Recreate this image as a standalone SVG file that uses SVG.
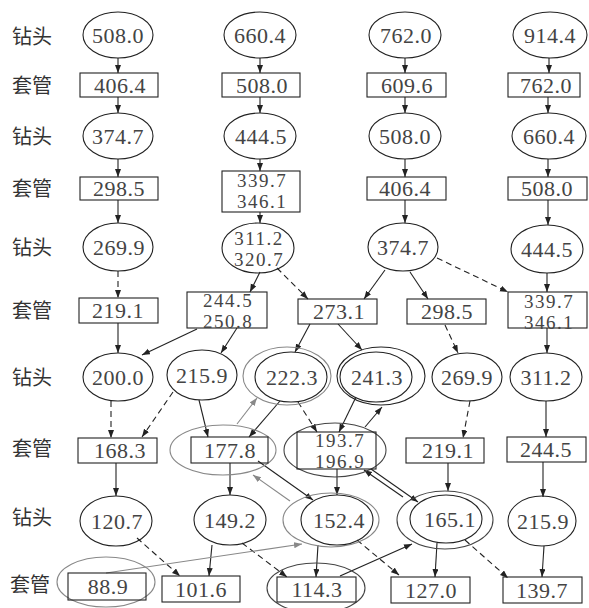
<svg xmlns="http://www.w3.org/2000/svg" width="589" height="608" viewBox="0 0 589 608">
<style>
.n ellipse,.n rect{fill:none;stroke:#222;stroke-width:1.1}
.n .g{stroke:#888}
.n .d{stroke:#444}
text{font-family:"Liberation Serif","Times New Roman",serif;font-size:22px;fill:#444;text-anchor:middle;letter-spacing:0.5px}
text.t2{font-size:19px;letter-spacing:1.5px}
text.lb{font-family:"Noto Sans CJK SC",sans-serif;font-size:20px;fill:#333;text-anchor:start;letter-spacing:0}
#edges line{stroke:#222;stroke-width:1.1;marker-end:url(#ah)}
#edges line.ds{stroke-dasharray:6 4}
#edges line.gr{stroke:#888;marker-end:url(#ahg)}
</style>
<defs>
<marker id="ah" markerUnits="userSpaceOnUse" markerWidth="9" markerHeight="7" refX="8" refY="3" orient="auto"><path d="M0,0 L8,3 L0,6 z" fill="#222"/></marker>
<marker id="ahg" markerUnits="userSpaceOnUse" markerWidth="9" markerHeight="7" refX="8" refY="3" orient="auto"><path d="M0,0 L8,3 L0,6 z" fill="#888"/></marker>
</defs>
<g id="labels">
<text class="lb" x="12" y="44">钻头</text>
<text class="lb" x="12" y="93">套管</text>
<text class="lb" x="12" y="144">钻头</text>
<text class="lb" x="12" y="196">套管</text>
<text class="lb" x="12" y="255">钻头</text>
<text class="lb" x="12" y="318">套管</text>
<text class="lb" x="12" y="385">钻头</text>
<text class="lb" x="12" y="456">套管</text>
<text class="lb" x="12" y="525">钻头</text>
<text class="lb" x="10" y="592">套管</text>
</g>
<g id="edges">
<line x1="118" y1="58" x2="118" y2="73"/>
<line x1="118" y1="97" x2="118" y2="113"/>
<line x1="118" y1="159" x2="118" y2="177"/>
<line x1="118" y1="200" x2="118" y2="223"/>
<line class="ds" x1="118" y1="271" x2="118" y2="298"/>
<line x1="118" y1="323" x2="118" y2="353"/>
<line class="ds" x1="111" y1="401" x2="111" y2="438"/>
<line x1="116" y1="463" x2="116" y2="496"/>
<line class="ds" x1="137" y1="538" x2="180" y2="576"/>
<line x1="260" y1="58" x2="260" y2="73"/>
<line x1="260" y1="97" x2="260" y2="113"/>
<line x1="260" y1="159" x2="260" y2="171"/>
<line x1="260" y1="212" x2="260" y2="223"/>
<line x1="260" y1="272" x2="250" y2="292"/>
<line class="ds" x1="277" y1="268" x2="308" y2="299"/>
<line x1="197" y1="329" x2="142" y2="355"/>
<line x1="237" y1="328" x2="221" y2="353"/>
<line class="ds" x1="173" y1="392" x2="142" y2="437"/>
<line x1="199" y1="400" x2="208" y2="437"/>
<line x1="280" y1="401" x2="249" y2="437"/>
<line x1="230" y1="463" x2="230" y2="495"/>
<line x1="258" y1="461" x2="313" y2="500"/>
<line x1="212" y1="545" x2="209" y2="576"/>
<line class="ds" x1="242" y1="543" x2="287" y2="577"/>
<line x1="405" y1="58" x2="405" y2="73"/>
<line x1="405" y1="97" x2="405" y2="113"/>
<line x1="405" y1="159" x2="405" y2="177"/>
<line x1="405" y1="200" x2="405" y2="223"/>
<line x1="385" y1="270" x2="364" y2="299"/>
<line x1="410" y1="272" x2="428" y2="299"/>
<line class="ds" x1="437" y1="258" x2="508" y2="292"/>
<line x1="310" y1="324" x2="295" y2="352"/>
<line x1="338" y1="324" x2="362" y2="350"/>
<line class="ds" x1="445" y1="325" x2="458" y2="353"/>
<line class="ds" x1="298" y1="402" x2="317" y2="432"/>
<line x1="356" y1="397" x2="339" y2="432"/>
<line class="ds" x1="470" y1="401" x2="463" y2="438"/>
<line x1="337" y1="469" x2="337" y2="495"/>
<line x1="371" y1="469" x2="418" y2="502"/>
<line x1="403" y1="497" x2="364" y2="470"/>
<line x1="448" y1="463" x2="448" y2="491"/>
<line x1="437" y1="543" x2="435" y2="577"/>
<line class="ds" x1="465" y1="540" x2="508" y2="578"/>
<line class="ds" x1="357" y1="540" x2="399" y2="575"/>
<line x1="318" y1="545" x2="316" y2="577"/>
<line class="gr" x1="237" y1="424" x2="257" y2="398"/>
<line class="gr" x1="290" y1="501" x2="253" y2="475"/>
<line class="gr" x1="106" y1="573" x2="302" y2="544"/>
<line x1="365" y1="427" x2="382" y2="407"/>
<line x1="340" y1="576" x2="412" y2="544"/>
<line x1="549" y1="58" x2="549" y2="73"/>
<line x1="548" y1="97" x2="548" y2="113"/>
<line x1="548" y1="159" x2="548" y2="177"/>
<line x1="548" y1="200" x2="548" y2="225"/>
<line x1="547" y1="273" x2="547" y2="292"/>
<line x1="547" y1="328" x2="547" y2="353"/>
<line x1="546" y1="401" x2="546" y2="437"/>
<line x1="543" y1="462" x2="543" y2="497"/>
<line x1="544" y1="546" x2="542" y2="577"/>
</g>
<g id="n508a" class="n"><ellipse cx="118" cy="35" rx="35" ry="23"/><text x="118" y="43">508.0</text></g>
<g id="n406a" class="n"><rect x="80" y="73" width="78" height="24"/><text x="120" y="93">406.4</text></g>
<g id="n374a" class="n"><ellipse cx="118" cy="136" rx="35" ry="23"/><text x="118" y="144">374.7</text></g>
<g id="n298a" class="n"><rect x="80" y="177" width="78" height="23"/><text x="119" y="196">298.5</text></g>
<g id="n269a" class="n"><ellipse cx="118" cy="247" rx="35" ry="24"/><text x="119" y="255">269.9</text></g>
<g id="n219a" class="n"><rect x="79" y="298" width="79" height="25"/><text x="118" y="318">219.1</text></g>
<g id="n200" class="n"><ellipse cx="118" cy="377" rx="35" ry="24"/><text x="118" y="385">200.0</text></g>
<g id="n168" class="n"><rect x="78" y="438" width="79" height="25"/><text x="120" y="458">168.3</text></g>
<g id="n120" class="n"><ellipse cx="116" cy="521" rx="36" ry="25"/><text x="117" y="529">120.7</text></g>
<g id="n88" class="n"><ellipse class="g" cx="106" cy="582" rx="49" ry="25"/><rect x="68" y="573" width="78" height="27"/><text x="108" y="594">88.9</text></g>
<g id="n660b" class="n"><ellipse cx="260" cy="35" rx="36" ry="23"/><text x="260" y="43">660.4</text></g>
<g id="n508b" class="n"><rect x="222" y="73" width="78" height="24"/><text x="262" y="93">508.0</text></g>
<g id="n444b" class="n"><ellipse cx="260" cy="136" rx="36" ry="23"/><text x="261" y="144">444.5</text></g>
<g id="n339b" class="n"><rect x="222" y="171" width="78" height="41"/><text class="t2" x="262" y="187">339.7</text><text class="t2" x="262" y="208">346.1</text></g>
<g id="n311b" class="n"><ellipse cx="258" cy="248" rx="36" ry="25"/><text class="t2" x="259" y="245">311.2</text><text class="t2" x="259" y="266">320.7</text></g>
<g id="n244b" class="n"><rect x="187" y="292" width="80" height="36"/><text class="t2" x="228" y="307">244.5</text><text class="t2" x="228" y="328">250.8</text></g>
<g id="n215b" class="n"><ellipse cx="202" cy="375" rx="35" ry="25"/><text x="202" y="383">215.9</text></g>
<g id="n177" class="n"><ellipse class="g" cx="223" cy="450" rx="53" ry="25"/><rect x="191" y="437" width="77" height="26"/><text x="230" y="458">177.8</text></g>
<g id="n149" class="n"><ellipse cx="230" cy="520" rx="36" ry="25"/><text x="230" y="528">149.2</text></g>
<g id="n101" class="n"><rect x="162" y="576" width="78" height="26"/><text x="201" y="597">101.6</text></g>
<g id="n762c" class="n"><ellipse cx="405" cy="35" rx="36" ry="23"/><text x="406" y="43">762.0</text></g>
<g id="n609" class="n"><rect x="367" y="73" width="79" height="24"/><text x="407" y="93">609.6</text></g>
<g id="n508c" class="n"><ellipse cx="405" cy="136" rx="36" ry="23"/><text x="405" y="144">508.0</text></g>
<g id="n406c" class="n"><rect x="367" y="177" width="79" height="23"/><text x="405" y="196">406.4</text></g>
<g id="n374c" class="n"><ellipse cx="403" cy="247" rx="35" ry="24"/><text x="403" y="255">374.7</text></g>
<g id="n273" class="n"><rect x="298" y="299" width="79" height="25"/><text x="339" y="319">273.1</text></g>
<g id="n298c" class="n"><rect x="407" y="299" width="79" height="25"/><text x="447" y="319">298.5</text></g>
<g id="n222" class="n"><ellipse class="g" cx="287" cy="376" rx="44" ry="29"/><ellipse cx="291" cy="377" rx="36" ry="25"/><text x="292" y="385">222.3</text></g>
<g id="n241" class="n"><ellipse cx="381" cy="376" rx="44" ry="29"/><ellipse cx="376" cy="377" rx="36" ry="25"/><text x="377" y="385">241.3</text></g>
<g id="n269c" class="n"><ellipse cx="467" cy="377" rx="35" ry="24"/><text x="467" y="385">269.9</text></g>
<g id="n193" class="n"><ellipse class="d" cx="335" cy="450" rx="51" ry="27"/><rect x="297" y="432" width="79" height="37"/><text class="t2" x="340" y="447">193.7</text><text class="t2" x="340" y="468">196.9</text></g>
<g id="n219c" class="n"><rect x="406" y="438" width="78" height="25"/><text x="448" y="458">219.1</text></g>
<g id="n152" class="n"><ellipse class="g" cx="331" cy="520" rx="48" ry="27"/><ellipse cx="337" cy="520" rx="36" ry="25"/><text x="339" y="528">152.4</text></g>
<g id="n165" class="n"><ellipse class="d" cx="445" cy="520" rx="48" ry="29"/><ellipse cx="446" cy="519" rx="36" ry="24"/><text x="450" y="527">165.1</text></g>
<g id="n114" class="n"><ellipse class="d" cx="316" cy="588" rx="49" ry="25"/><rect x="277" y="577" width="79" height="25"/><text x="317" y="597">114.3</text></g>
<g id="n127" class="n"><rect x="391" y="577" width="79" height="26"/><text x="431" y="598">127.0</text></g>
<g id="n914" class="n"><ellipse cx="550" cy="35" rx="37" ry="23"/><text x="550" y="43">914.4</text></g>
<g id="n762d" class="n"><rect x="508" y="73" width="72" height="24"/><text x="546" y="93">762.0</text></g>
<g id="n660d" class="n"><ellipse cx="549" cy="136" rx="37" ry="23"/><text x="549" y="144">660.4</text></g>
<g id="n508d" class="n"><rect x="508" y="177" width="79" height="23"/><text x="547" y="196">508.0</text></g>
<g id="n444d" class="n"><ellipse cx="547" cy="249" rx="36" ry="24"/><text x="547" y="257">444.5</text></g>
<g id="n339d" class="n"><rect x="508" y="292" width="79" height="36"/><text class="t2" x="549" y="308">339.7</text><text class="t2" x="549" y="329">346.1</text></g>
<g id="n311d" class="n"><ellipse cx="546" cy="377" rx="36" ry="24"/><text x="546" y="385">311.2</text></g>
<g id="n244d" class="n"><rect x="507" y="437" width="79" height="25"/><text x="546" y="457">244.5</text></g>
<g id="n215d" class="n"><ellipse cx="542" cy="521" rx="34" ry="25"/><text x="543" y="529">215.9</text></g>
<g id="n139" class="n"><rect x="503" y="577" width="79" height="26"/><text x="542" y="598">139.7</text></g>
</svg>
